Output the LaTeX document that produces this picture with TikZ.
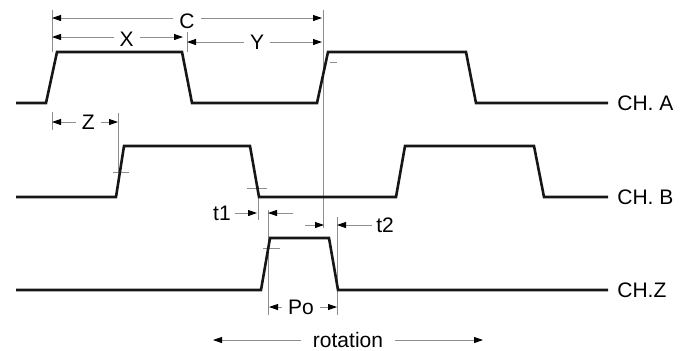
\documentclass[tikz,border=0pt]{standalone}
\usepackage{fontspec}
\setmainfont{Liberation Sans}
\usetikzlibrary{arrows.meta, positioning, calc}
\definecolor{inkdim}{HTML}{8E8E8E}
\definecolor{inkwave}{HTML}{161616}

\begin{document}
\begin{tikzpicture}[x=0.5pt, y=-0.5pt, font=\fontsize{10.5}{12}\selectfont,
    >={Triangle[length=4.5pt, width=3pt, color=black]},
    wave/.style={inkwave, line width=1.3pt},
    thin line/.style={inkdim, line width=0.4pt},
    dimline/.style={thin line, ->},
    dimboth/.style={thin line, <->},
    gap/.style={fill=white, text=black, inner xsep=3pt, inner ysep=0.5pt},
    chlabel/.style={anchor=west, inner sep=0pt}]
  \useasboundingbox (0,0) rectangle (684,350);

  % extension lines and crossing marks
  \draw[thin line] (52,10) -- (52,52) (52,112) -- (52,130);
  \draw[thin line] (187,32) -- (187,52);
  \draw[thin line] (323,10) -- (323,228);
  \draw[thin line] (118,113) -- (118,172);
  \draw[thin line] (258,186) -- (258,220);
  \draw[thin line] (268,210) -- (268,315);
  \draw[thin line] (337,217) -- (337,315);
  \draw[thin line] (113,172) -- (129,172) (247,188) -- (267,188)
    (263,248) -- (280,248) (330,62) -- (337,62);

  % dimension end points
  \coordinate (cL) at (52,18);
  \coordinate (cR) at (322,18);
  \coordinate (xL) at (52,37);
  \coordinate (xR) at (183,37);
  \coordinate (yL) at (187,42);
  \coordinate (yR) at (322,42);
  \coordinate (zL) at (52,122);
  \coordinate (zR) at (118,122);
  \coordinate (t1a) at (257,213);
  \coordinate (t1b) at (293,213);
  \coordinate (t1c) at (268,213);
  \coordinate (t2p) at (305,225);
  \coordinate (t2a) at (324,225);
  \coordinate (t2b) at (337,225);
  \coordinate (poL) at (269,307);
  \coordinate (poR) at (337,307);
  \coordinate (rotL) at (213,340);
  \coordinate (rotR) at (483,340);

  % dimensions
  \draw[dimboth] (cL) -- node[gap, yshift=-1.5pt] (clbl) {C} (cR);
  \draw[dimboth] (xL) -- node[gap, pos=0.57, yshift=-1pt] (xlbl) {X} (xR);
  \draw[dimboth] (yL) -- node[gap, pos=0.52] (ylbl) {Y} (yR);
  \draw[dimboth] (zL) -- node[gap, pos=0.55] (zlbl) {Z} (zR);
  \draw[dimboth] (poL) -- node[gap, pos=0.47] (polbl) {Po} (poR);
  \draw[dimboth] (rotL) -- node[gap, inner xsep=6pt] (rotlbl) {rotation} (rotR);

  \node[inner sep=2pt] (t1lbl) at (222,213) {t1};
  \draw[dimline] (t1lbl.east) -- (t1a);
  \draw[dimline] (t1b) -- (t1c);
  \node[inner sep=2pt] (t2lbl) at (385,225) {t2};
  \draw[dimline] (t2p) -- (t2a);
  \draw[dimline] (t2lbl.west) -- (t2b);

  % channel waveforms
  \draw[wave] (16,103) -- (46,103) -- (57,52) -- (182,52) -- (192,103)
    -- (317,103) -- (328,52) -- (466,52) -- (476,103) -- (608,103);
  \draw[wave] (16,197) -- (116,197) -- (124,146) -- (250,146) -- (259,197)
    -- (396,197) -- (405,146) -- (534,146) -- (544,197) -- (608,197);
  \draw[wave] (16,290) -- (261,290) -- (270,238) -- (329,238) -- (338,290)
    -- (608,290);
  \node[chlabel] (cha) at (617,103) {CH. A};
  \node[chlabel] (chb) at (617,197) {CH. B};
  \node[chlabel] (chz) at (617,290) {CH.Z};
\end{tikzpicture}
\end{document}
